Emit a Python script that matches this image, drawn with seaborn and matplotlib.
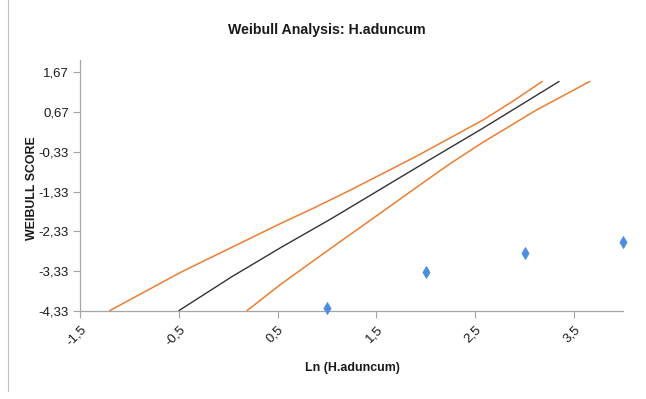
import matplotlib
matplotlib.use("Agg")
import matplotlib.pyplot as plt
import seaborn as sns
from matplotlib.lines import Line2D
from matplotlib.ticker import FuncFormatter
from matplotlib import font_manager

# Data
fit_x = [-0.50, 0.04, 0.54, 1.04, 1.53, 2.04, 2.55, 2.99, 3.35]
fit_y = [-4.33, -3.47, -2.73, -2.02, -1.29, -0.53, 0.22, 0.89, 1.44]
upper_x = [-1.20, -0.47, 0.535, 0.88, 1.24, 1.90, 2.58, 2.88, 3.18]
upper_y = [-4.33, -3.35, -2.13, -1.73, -1.29, -0.45, 0.47, 0.94, 1.44]
lower_x = [0.19, 0.535, 1.05, 1.56, 1.87, 2.24, 2.58, 3.12, 3.66]
lower_y = [-4.33, -3.66, -2.74, -1.84, -1.29, -0.64, -0.09, 0.72, 1.44]
obs_x = [1.0, 2.0, 3.0, 4.0]
obs_y = [-4.27, -3.36, -2.88, -2.59]
x_ticks = [-1.5, -0.5, 0.5, 1.5, 2.5, 3.5]
y_ticks = [-4.33, -3.33, -2.33, -1.33, -0.33, 0.67, 1.67]

sns.set_theme(style="white")

narrow = None
try:
    font_manager.findfont('Liberation Sans Narrow', fallback_to_default=False)
    narrow = 'Liberation Sans Narrow'
except Exception:
    narrow = None

if narrow:
    plt.rcParams['font.family'] = [narrow, 'DejaVu Sans']
    k = 1.0
else:
    plt.rcParams['font.family'] = ['Liberation Sans', 'DejaVu Sans']
    k = 0.85

fig = plt.figure(figsize=(6.46, 3.99), dpi=100)
ax = fig.add_axes([80/646, 1 - 310.7/399, (623.3-80)/646, (310.7-60)/399])

orange = '#ED7D31'
sns.lineplot(x=upper_x, y=upper_y, sort=False, ax=ax, color=orange, lw=1.1)
sns.lineplot(x=lower_x, y=lower_y, sort=False, ax=ax, color=orange, lw=1.1)
sns.lineplot(x=fit_x, y=fit_y, sort=False, ax=ax, color='#333333', lw=1.0)
sns.scatterplot(x=obs_x, y=obs_y, ax=ax, marker='d', s=38, color='#4A8FDB',
                edgecolor='#4A8FDB', linewidth=0.5, zorder=5, clip_on=False)

ax.set_xlim(-1.5, 4.0)
ax.set_ylim(-4.33, 1.98)
ax.set_xticks(x_ticks)
ax.set_yticks(y_ticks)
ax.xaxis.set_major_formatter(FuncFormatter(lambda v, p: f"{v:.1f}".replace('.', ',')))
ax.yaxis.set_major_formatter(FuncFormatter(lambda v, p: f"{v:.2f}".replace('.', ',')))
ax.tick_params(axis='both', which='major', length=5, width=0.8, color='#a6a6a6',
               labelsize=10.5 * k if narrow else 9.5, labelcolor='#1a1a1a', direction='out')
for lab in ax.get_xticklabels():
    lab.set_rotation(45)
    lab.set_ha('right')
    lab.set_rotation_mode('anchor')
ax.tick_params(axis='x', pad=4)
ax.tick_params(axis='y', pad=3)
ax.xaxis.set_ticks_position('bottom')
ax.yaxis.set_ticks_position('left')

for s in ['top', 'right']:
    ax.spines[s].set_visible(False)
for s in ['left', 'bottom']:
    ax.spines[s].set_color('#a6a6a6')
    ax.spines[s].set_linewidth(0.9)
ax.grid(False)

ax.set_xlabel('Ln (H.aduncum)', fontsize=10.5 * k, fontweight='bold', color='#1a1a1a')
ax.set_ylabel('WEIBULL SCORE', fontsize=10.5 * k, fontweight='bold', color='#1a1a1a')
ax.xaxis.set_label_coords((352-80)/(623.3-80), -(368-310.7)/(310.7-60))
ax.yaxis.set_label_coords(-(80-32)/(623.3-80), (310.7-188)/(310.7-60))
ax.xaxis.label.set_va('center')
ax.yaxis.label.set_va('center')

fig.text(327/646, 1 - 30/399, 'Weibull Analysis: H.aduncum', ha='center', va='center',
         fontsize=12 * k, fontweight='bold', color='#1a1a1a')

fig.add_artist(Line2D([7.5/646, 7.5/646], [0.02, 1.0], transform=fig.transFigure,
                      color='#bfbfbf', lw=0.8))

fig.savefig('out.png', dpi=100)
